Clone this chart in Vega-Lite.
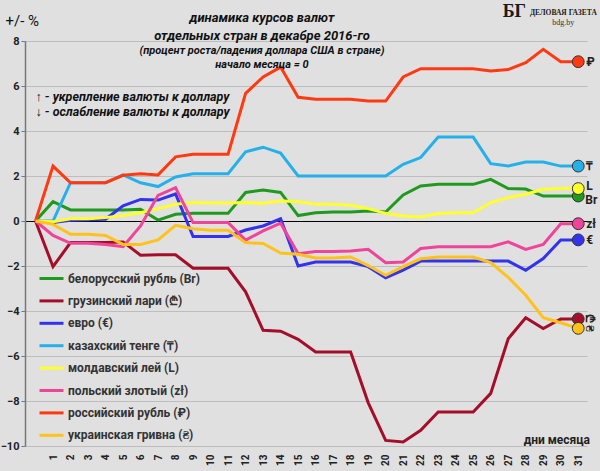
{
  "$schema": "https://vega.github.io/schema/vega-lite/v6.json",
  "width": 562,
  "height": 405,
  "autosize": "none",
  "padding": {"left": 25, "top": 41, "right": 13, "bottom": 25},
  "background": "#e0e0e0",
  "config": {"view": {"stroke": null}, "font": "Roboto"},
  "title": {
    "text": ["динамика курсов валют", "отдельных стран в декабре 2016-го"],
    "subtitle": ["(процент роста/падения доллара США в стране)", "начало месяца = 0"],
    "anchor": "middle",
    "dx": -44,
    "offset": -67,
    "font": "Roboto",
    "fontSize": 13,
    "fontStyle": "italic",
    "fontWeight": "bold",
    "lineHeight": 18,
    "color": "#111111",
    "subtitleFont": "Roboto",
    "subtitleFontSize": 11,
    "subtitleFontStyle": "italic",
    "subtitleFontWeight": "bold",
    "subtitleLineHeight": 14,
    "subtitlePadding": 2,
    "subtitleColor": "#111111"
  },
  "data": {
    "values": [
      {"day": 0, "cur": "Br", "pct": 0}, {"day": 1, "cur": "Br", "pct": 0.86}, {"day": 2, "cur": "Br", "pct": 0.49}, {"day": 3, "cur": "Br", "pct": 0.49},
      {"day": 4, "cur": "Br", "pct": 0.49}, {"day": 5, "cur": "Br", "pct": 0.49}, {"day": 6, "cur": "Br", "pct": 0.52}, {"day": 7, "cur": "Br", "pct": 0.04},
      {"day": 8, "cur": "Br", "pct": 0.3}, {"day": 9, "cur": "Br", "pct": 0.34}, {"day": 10, "cur": "Br", "pct": 0.34}, {"day": 11, "cur": "Br", "pct": 0.34},
      {"day": 12, "cur": "Br", "pct": 1.27}, {"day": 13, "cur": "Br", "pct": 1.38}, {"day": 14, "cur": "Br", "pct": 1.27}, {"day": 15, "cur": "Br", "pct": 0.24},
      {"day": 16, "cur": "Br", "pct": 0.37}, {"day": 17, "cur": "Br", "pct": 0.4}, {"day": 18, "cur": "Br", "pct": 0.4}, {"day": 19, "cur": "Br", "pct": 0.44},
      {"day": 20, "cur": "Br", "pct": 0.4}, {"day": 21, "cur": "Br", "pct": 1.16}, {"day": 22, "cur": "Br", "pct": 1.56}, {"day": 23, "cur": "Br", "pct": 1.63},
      {"day": 24, "cur": "Br", "pct": 1.63}, {"day": 25, "cur": "Br", "pct": 1.63}, {"day": 26, "cur": "Br", "pct": 1.85}, {"day": 27, "cur": "Br", "pct": 1.44},
      {"day": 28, "cur": "Br", "pct": 1.42}, {"day": 29, "cur": "Br", "pct": 1.11}, {"day": 30, "cur": "Br", "pct": 1.11}, {"day": 31, "cur": "Br", "pct": 1.11},

      {"day": 0, "cur": "₾", "pct": 0}, {"day": 1, "cur": "₾", "pct": -2.03}, {"day": 2, "cur": "₾", "pct": -0.96}, {"day": 3, "cur": "₾", "pct": -0.96},
      {"day": 4, "cur": "₾", "pct": -0.96}, {"day": 5, "cur": "₾", "pct": -0.93}, {"day": 6, "cur": "₾", "pct": -1.52}, {"day": 7, "cur": "₾", "pct": -1.5},
      {"day": 8, "cur": "₾", "pct": -1.5}, {"day": 9, "cur": "₾", "pct": -2.1}, {"day": 10, "cur": "₾", "pct": -2.1}, {"day": 11, "cur": "₾", "pct": -2.1},
      {"day": 12, "cur": "₾", "pct": -3.15}, {"day": 13, "cur": "₾", "pct": -4.86}, {"day": 14, "cur": "₾", "pct": -4.9}, {"day": 15, "cur": "₾", "pct": -5.26},
      {"day": 16, "cur": "₾", "pct": -5.82}, {"day": 17, "cur": "₾", "pct": -5.82}, {"day": 18, "cur": "₾", "pct": -5.82}, {"day": 19, "cur": "₾", "pct": -8.07},
      {"day": 20, "cur": "₾", "pct": -9.75}, {"day": 21, "cur": "₾", "pct": -9.82}, {"day": 22, "cur": "₾", "pct": -9.3}, {"day": 23, "cur": "₾", "pct": -8.49},
      {"day": 24, "cur": "₾", "pct": -8.49}, {"day": 25, "cur": "₾", "pct": -8.49}, {"day": 26, "cur": "₾", "pct": -7.66}, {"day": 27, "cur": "₾", "pct": -5.23},
      {"day": 28, "cur": "₾", "pct": -4.3}, {"day": 29, "cur": "₾", "pct": -4.78}, {"day": 30, "cur": "₾", "pct": -4.35}, {"day": 31, "cur": "₾", "pct": -4.35},

      {"day": 0, "cur": "€", "pct": 0}, {"day": 1, "cur": "€", "pct": -0.07}, {"day": 2, "cur": "€", "pct": 0.03}, {"day": 3, "cur": "€", "pct": 0.05},
      {"day": 4, "cur": "€", "pct": 0.08}, {"day": 5, "cur": "€", "pct": 0.67}, {"day": 6, "cur": "€", "pct": 0.96}, {"day": 7, "cur": "€", "pct": 0.93},
      {"day": 8, "cur": "€", "pct": 1.2}, {"day": 9, "cur": "€", "pct": -0.69}, {"day": 10, "cur": "€", "pct": -0.69}, {"day": 11, "cur": "€", "pct": -0.69},
      {"day": 12, "cur": "€", "pct": -0.4}, {"day": 13, "cur": "€", "pct": -0.22}, {"day": 14, "cur": "€", "pct": 0.1}, {"day": 15, "cur": "€", "pct": -2.0},
      {"day": 16, "cur": "€", "pct": -1.82}, {"day": 17, "cur": "€", "pct": -1.82}, {"day": 18, "cur": "€", "pct": -1.82}, {"day": 19, "cur": "€", "pct": -2.03},
      {"day": 20, "cur": "€", "pct": -2.52}, {"day": 21, "cur": "€", "pct": -2.18}, {"day": 22, "cur": "€", "pct": -1.78}, {"day": 23, "cur": "€", "pct": -1.78},
      {"day": 24, "cur": "€", "pct": -1.78}, {"day": 25, "cur": "€", "pct": -1.78}, {"day": 26, "cur": "€", "pct": -1.78}, {"day": 27, "cur": "€", "pct": -1.78},
      {"day": 28, "cur": "€", "pct": -2.19}, {"day": 29, "cur": "€", "pct": -1.67}, {"day": 30, "cur": "€", "pct": -0.84}, {"day": 31, "cur": "€", "pct": -0.84},

      {"day": 0, "cur": "₸", "pct": 0}, {"day": 1, "cur": "₸", "pct": 0}, {"day": 2, "cur": "₸", "pct": 1.7}, {"day": 3, "cur": "₸", "pct": 1.7},
      {"day": 4, "cur": "₸", "pct": 1.7}, {"day": 5, "cur": "₸", "pct": 2.05}, {"day": 6, "cur": "₸", "pct": 1.7}, {"day": 7, "cur": "₸", "pct": 1.53},
      {"day": 8, "cur": "₸", "pct": 1.96}, {"day": 9, "cur": "₸", "pct": 2.1}, {"day": 10, "cur": "₸", "pct": 2.1}, {"day": 11, "cur": "₸", "pct": 2.1},
      {"day": 12, "cur": "₸", "pct": 3.07}, {"day": 13, "cur": "₸", "pct": 3.28}, {"day": 14, "cur": "₸", "pct": 3.02}, {"day": 15, "cur": "₸", "pct": 2.0},
      {"day": 16, "cur": "₸", "pct": 2.0}, {"day": 17, "cur": "₸", "pct": 2.0}, {"day": 18, "cur": "₸", "pct": 2.0}, {"day": 19, "cur": "₸", "pct": 2.0},
      {"day": 20, "cur": "₸", "pct": 2.0}, {"day": 21, "cur": "₸", "pct": 2.52}, {"day": 22, "cur": "₸", "pct": 2.82}, {"day": 23, "cur": "₸", "pct": 3.73},
      {"day": 24, "cur": "₸", "pct": 3.73}, {"day": 25, "cur": "₸", "pct": 3.73}, {"day": 26, "cur": "₸", "pct": 2.55}, {"day": 27, "cur": "₸", "pct": 2.44},
      {"day": 28, "cur": "₸", "pct": 2.62}, {"day": 29, "cur": "₸", "pct": 2.62}, {"day": 30, "cur": "₸", "pct": 2.44}, {"day": 31, "cur": "₸", "pct": 2.44},

      {"day": 0, "cur": "L", "pct": 0}, {"day": 1, "cur": "L", "pct": -0.03}, {"day": 2, "cur": "L", "pct": 0.1}, {"day": 3, "cur": "L", "pct": 0.1},
      {"day": 4, "cur": "L", "pct": 0.15}, {"day": 5, "cur": "L", "pct": 0.25}, {"day": 6, "cur": "L", "pct": 0.37}, {"day": 7, "cur": "L", "pct": 0.55},
      {"day": 8, "cur": "L", "pct": 0.74}, {"day": 9, "cur": "L", "pct": 0.82}, {"day": 10, "cur": "L", "pct": 0.8}, {"day": 11, "cur": "L", "pct": 0.8},
      {"day": 12, "cur": "L", "pct": 0.82}, {"day": 13, "cur": "L", "pct": 0.79}, {"day": 14, "cur": "L", "pct": 0.89}, {"day": 15, "cur": "L", "pct": 0.87},
      {"day": 16, "cur": "L", "pct": 0.74}, {"day": 17, "cur": "L", "pct": 0.74}, {"day": 18, "cur": "L", "pct": 0.7}, {"day": 19, "cur": "L", "pct": 0.55},
      {"day": 20, "cur": "L", "pct": 0.34}, {"day": 21, "cur": "L", "pct": 0.22}, {"day": 22, "cur": "L", "pct": 0.18}, {"day": 23, "cur": "L", "pct": 0.33},
      {"day": 24, "cur": "L", "pct": 0.37}, {"day": 25, "cur": "L", "pct": 0.37}, {"day": 26, "cur": "L", "pct": 0.82}, {"day": 27, "cur": "L", "pct": 1.04},
      {"day": 28, "cur": "L", "pct": 1.19}, {"day": 29, "cur": "L", "pct": 1.41}, {"day": 30, "cur": "L", "pct": 1.44}, {"day": 31, "cur": "L", "pct": 1.44},

      {"day": 0, "cur": "zł", "pct": 0}, {"day": 1, "cur": "zł", "pct": -0.64}, {"day": 2, "cur": "zł", "pct": -0.99}, {"day": 3, "cur": "zł", "pct": -0.99},
      {"day": 4, "cur": "zł", "pct": -1.04}, {"day": 5, "cur": "zł", "pct": -1.14}, {"day": 6, "cur": "zł", "pct": -0.22}, {"day": 7, "cur": "zł", "pct": 1.14},
      {"day": 8, "cur": "zł", "pct": 1.48}, {"day": 9, "cur": "zł", "pct": -0.07}, {"day": 10, "cur": "zł", "pct": -0.07}, {"day": 11, "cur": "zł", "pct": -0.07},
      {"day": 12, "cur": "zł", "pct": -0.85}, {"day": 13, "cur": "zł", "pct": -0.44}, {"day": 14, "cur": "zł", "pct": -0.1}, {"day": 15, "cur": "zł", "pct": -1.45},
      {"day": 16, "cur": "zł", "pct": -1.36}, {"day": 17, "cur": "zł", "pct": -1.36}, {"day": 18, "cur": "zł", "pct": -1.33}, {"day": 19, "cur": "zł", "pct": -1.26},
      {"day": 20, "cur": "zł", "pct": -1.85}, {"day": 21, "cur": "zł", "pct": -1.82}, {"day": 22, "cur": "zł", "pct": -1.22}, {"day": 23, "cur": "zł", "pct": -1.14},
      {"day": 24, "cur": "zł", "pct": -1.14}, {"day": 25, "cur": "zł", "pct": -1.14}, {"day": 26, "cur": "zł", "pct": -1.14}, {"day": 27, "cur": "zł", "pct": -0.93},
      {"day": 28, "cur": "zł", "pct": -1.26}, {"day": 29, "cur": "zł", "pct": -1.04}, {"day": 30, "cur": "zł", "pct": -0.12}, {"day": 31, "cur": "zł", "pct": -0.12},

      {"day": 0, "cur": "₽", "pct": 0}, {"day": 1, "cur": "₽", "pct": 2.44}, {"day": 2, "cur": "₽", "pct": 1.7}, {"day": 3, "cur": "₽", "pct": 1.7},
      {"day": 4, "cur": "₽", "pct": 1.7}, {"day": 5, "cur": "₽", "pct": 2.03}, {"day": 6, "cur": "₽", "pct": 2.1}, {"day": 7, "cur": "₽", "pct": 2.05},
      {"day": 8, "cur": "₽", "pct": 2.85}, {"day": 9, "cur": "₽", "pct": 2.97}, {"day": 10, "cur": "₽", "pct": 2.97}, {"day": 11, "cur": "₽", "pct": 2.97},
      {"day": 12, "cur": "₽", "pct": 5.67}, {"day": 13, "cur": "₽", "pct": 6.4}, {"day": 14, "cur": "₽", "pct": 6.84}, {"day": 15, "cur": "₽", "pct": 5.5},
      {"day": 16, "cur": "₽", "pct": 5.41}, {"day": 17, "cur": "₽", "pct": 5.41}, {"day": 18, "cur": "₽", "pct": 5.41}, {"day": 19, "cur": "₽", "pct": 5.33},
      {"day": 20, "cur": "₽", "pct": 5.33}, {"day": 21, "cur": "₽", "pct": 6.4}, {"day": 22, "cur": "₽", "pct": 6.77}, {"day": 23, "cur": "₽", "pct": 6.77},
      {"day": 24, "cur": "₽", "pct": 6.77}, {"day": 25, "cur": "₽", "pct": 6.77}, {"day": 26, "cur": "₽", "pct": 6.67}, {"day": 27, "cur": "₽", "pct": 6.73},
      {"day": 28, "cur": "₽", "pct": 7.04}, {"day": 29, "cur": "₽", "pct": 7.63}, {"day": 30, "cur": "₽", "pct": 7.08}, {"day": 31, "cur": "₽", "pct": 7.08},

      {"day": 0, "cur": "₴", "pct": 0}, {"day": 1, "cur": "₴", "pct": -0.15}, {"day": 2, "cur": "₴", "pct": -0.59}, {"day": 3, "cur": "₴", "pct": -0.59},
      {"day": 4, "cur": "₴", "pct": -0.64}, {"day": 5, "cur": "₴", "pct": -1.04}, {"day": 6, "cur": "₴", "pct": -1.04}, {"day": 7, "cur": "₴", "pct": -0.84},
      {"day": 8, "cur": "₴", "pct": -0.19}, {"day": 9, "cur": "₴", "pct": -0.34}, {"day": 10, "cur": "₴", "pct": -0.41}, {"day": 11, "cur": "₴", "pct": -0.41},
      {"day": 12, "cur": "₴", "pct": -0.96}, {"day": 13, "cur": "₴", "pct": -1.0}, {"day": 14, "cur": "₴", "pct": -1.42}, {"day": 15, "cur": "₴", "pct": -1.48},
      {"day": 16, "cur": "₴", "pct": -1.64}, {"day": 17, "cur": "₴", "pct": -1.64}, {"day": 18, "cur": "₴", "pct": -1.6}, {"day": 19, "cur": "₴", "pct": -1.98},
      {"day": 20, "cur": "₴", "pct": -2.41}, {"day": 21, "cur": "₴", "pct": -2.03}, {"day": 22, "cur": "₴", "pct": -1.68}, {"day": 23, "cur": "₴", "pct": -1.6},
      {"day": 24, "cur": "₴", "pct": -1.6}, {"day": 25, "cur": "₴", "pct": -1.6}, {"day": 26, "cur": "₴", "pct": -1.85}, {"day": 27, "cur": "₴", "pct": -2.5},
      {"day": 28, "cur": "₴", "pct": -3.3}, {"day": 29, "cur": "₴", "pct": -4.3}, {"day": 30, "cur": "₴", "pct": -4.52}, {"day": 31, "cur": "₴", "pct": -4.77}
    ]
  },
  "encoding": {
    "x": {
      "field": "day",
      "type": "quantitative",
      "scale": {"domain": [-0.6, 31.5], "nice": false, "zero": false},
      "axis": {
        "title": null,
        "values": [1, 2, 3, 4, 5, 6, 7, 8, 9, 10, 11, 12, 13, 14, 15, 16, 17, 18, 19, 20, 21, 22, 23, 24, 25, 26, 27, 28, 29, 30, 31],
        "labelAngle": 270,
        "labelAlign": "right",
        "labelBaseline": "middle",
        "labelPadding": 8,
        "labelFont": "Roboto",
        "labelFontSize": 10,
        "labelFontWeight": "bold",
        "labelColor": "#222222",
        "domain": false,
        "ticks": false,
        "grid": false
      }
    },
    "y": {
      "field": "pct",
      "type": "quantitative",
      "scale": {"domain": [-10, 8], "nice": false, "zero": false},
      "axis": {
        "title": "+/- %",
        "titleAngle": 0,
        "titleX": -20,
        "titleY": -21,
        "titleAlign": "left",
        "titleBaseline": "middle",
        "titleFont": "Roboto",
        "titleFontSize": 15,
        "titleFontWeight": "normal",
        "titleColor": "#111111",
        "values": [-10, -8, -6, -4, -2, 0, 2, 4, 6, 8],
        "labelFont": "Roboto",
        "labelFontSize": 11,
        "labelFontWeight": "bold",
        "labelColor": "#222222",
        "labelPadding": 2,
        "tickSize": 4,
        "tickColor": "#777777",
        "domainColor": "#777777",
        "domainWidth": 1.5,
        "gridColor": {"condition": {"test": "datum.value === 0", "value": "#000000"}, "value": "#bdbdbd"},
        "gridWidth": 1
      }
    }
  },
  "layer": [
    {
      "mark": {"type": "line", "strokeWidth": 3},
      "encoding": {
        "color": {
          "field": "cur",
          "type": "nominal",
          "scale": {
            "domain": ["Br", "₾", "€", "₸", "L", "zł", "₽", "₴"],
            "range": ["#1f9a1f", "#a50e2a", "#3333ee", "#26b0ea", "#ffff2e", "#f0449a", "#ff3a12", "#ffc21a"]
          },
          "legend": {
            "orient": "none",
            "legendX": 13,
            "legendY": 224,
            "title": null,
            "symbolType": "stroke",
            "symbolSize": 576,
            "symbolStrokeWidth": 3,
            "labelFont": "Roboto",
            "labelFontSize": 12,
            "labelFontWeight": "bold",
            "labelColor": "#333333",
            "labelOffset": 3,
            "rowPadding": 2.4,
            "labelExpr": "datum.label == 'Br' ? 'белорусский рубль (Br)' : datum.label == '₾' ? 'грузинский лари (₾)' : datum.label == '€' ? 'евро (€)' : datum.label == '₸' ? 'казахский тенге (₸)' : datum.label == 'L' ? 'молдавский лей (L)' : datum.label == 'zł' ? 'польский злотый (zł)' : datum.label == '₽' ? 'российский рубль (₽)' : 'украинская гривна (₴)'"
          }
        }
      }
    },
    {
      "transform": [{"filter": "datum.day == 31"}],
      "mark": {"type": "circle", "size": 140, "stroke": "#333333", "strokeWidth": 1, "opacity": 1},
      "encoding": {
        "fill": {
          "field": "cur",
          "type": "nominal",
          "scale": {
            "domain": ["Br", "₾", "€", "₸", "L", "zł", "₽", "₴"],
            "range": ["#1f9a1f", "#a50e2a", "#3333ee", "#26b0ea", "#ffff2e", "#f0449a", "#ff3a12", "#ffc21a"]
          },
          "legend": null
        }
      }
    },
    {
      "transform": [{"filter": "datum.day == 31 && (datum.cur == '₽' || datum.cur == '₸' || datum.cur == 'zł' || datum.cur == '€')"}],
      "mark": {"type": "text", "align": "left", "baseline": "middle", "dx": 8, "font": "Roboto", "fontSize": 12, "fontWeight": "bold", "color": "#222222"},
      "encoding": {"text": {"field": "cur"}}
    },
    {
      "transform": [{"filter": "datum.day == 31 && datum.cur == 'L'"}],
      "mark": {"type": "text", "align": "left", "baseline": "middle", "dx": 8, "dy": -3, "font": "Roboto", "fontSize": 12, "fontWeight": "bold", "color": "#222222"},
      "encoding": {"text": {"field": "cur"}}
    },
    {
      "transform": [{"filter": "datum.day == 31 && datum.cur == 'Br'"}],
      "mark": {"type": "text", "align": "left", "baseline": "middle", "dx": 7, "dy": 4, "font": "Roboto", "fontSize": 12, "fontWeight": "bold", "color": "#222222"},
      "encoding": {"text": {"field": "cur"}}
    },
    {
      "transform": [{"filter": "datum.day == 31 && (datum.cur == '₾' || datum.cur == '₴')"}],
      "mark": {"type": "text", "align": "center", "baseline": "middle", "angle": 90, "dy": -12, "font": "Roboto", "fontSize": 12, "fontWeight": "bold", "color": "#222222"},
      "encoding": {"text": {"field": "cur"}}
    },
    {
      "transform": [{"filter": "datum.day == 0 && datum.cur == 'Br'"}],
      "mark": {"type": "text", "align": "left", "baseline": "middle", "font": "Roboto", "fontSize": 12.5, "fontStyle": "italic", "fontWeight": "bold", "color": "#111111"},
      "encoding": {"x": {"datum": 0}, "y": {"datum": 5.5}, "text": {"value": "↑ - укрепление валюты к доллару"}}
    },
    {
      "transform": [{"filter": "datum.day == 0 && datum.cur == 'Br'"}],
      "mark": {"type": "text", "align": "left", "baseline": "middle", "font": "Roboto", "fontSize": 12.5, "fontStyle": "italic", "fontWeight": "bold", "color": "#111111"},
      "encoding": {"x": {"datum": 0}, "y": {"datum": 4.83}, "text": {"value": "↓ - ослабление валюты к доллару"}}
    },
    {
      "transform": [{"filter": "datum.day == 0 && datum.cur == 'Br'"}],
      "mark": {"type": "text", "align": "right", "baseline": "middle", "dx": 3, "font": "Roboto", "fontSize": 12, "fontWeight": "bold", "color": "#222222"},
      "encoding": {"x": {"datum": 31.5}, "y": {"datum": -9.75}, "text": {"value": "дни месяца"}}
    },
    {
      "transform": [{"filter": "datum.day == 0 && datum.cur == 'Br'"}],
      "mark": {"type": "text", "align": "center", "baseline": "middle", "font": "Liberation Serif", "fontSize": 18, "fontWeight": "bold", "color": "#1a1a1a"},
      "encoding": {"x": {"datum": 27.35}, "y": {"datum": 9.28}, "text": {"value": "БГ"}}
    },
    {
      "transform": [{"filter": "datum.day == 0 && datum.cur == 'Br'"}],
      "mark": {"type": "text", "align": "center", "baseline": "middle", "font": "Liberation Serif", "fontSize": 7.5, "fontWeight": "bold", "color": "#1a1a1a"},
      "encoding": {"x": {"datum": 30.15}, "y": {"datum": 9.25}, "text": {"value": "ДЕЛОВАЯ ГАЗЕТА"}}
    },
    {
      "transform": [{"filter": "datum.day == 0 && datum.cur == 'Br'"}],
      "mark": {"type": "text", "align": "center", "baseline": "middle", "font": "Liberation Serif", "fontSize": 8, "color": "#333333"},
      "encoding": {"x": {"datum": 30.15}, "y": {"datum": 8.79}, "text": {"value": "bdg.by"}}
    }
  ]
}
